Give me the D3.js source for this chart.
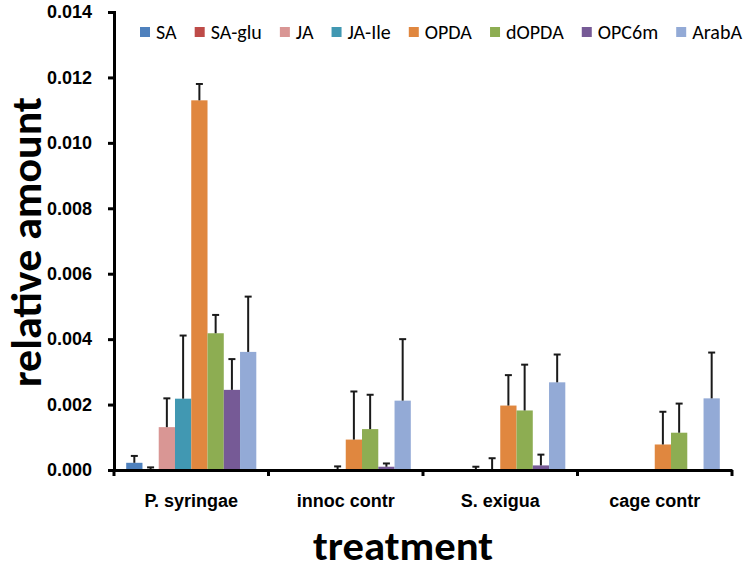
<!DOCTYPE html>
<html><head><meta charset="utf-8">
<script src="https://cdn.jsdelivr.net/npm/d3@7"></script>
<style>body{margin:0;background:#fff;} svg{display:block;font-family:Carlito, Lato, 'Open Sans', sans-serif;}</style>
</head><body><svg id="c" width="756" height="570"></svg>
<script>
const categories = ["P. syringae", "innoc contr", "S. exigua", "cage contr"];
const series = ["SA", "SA-glu", "JA", "JA-Ile", "OPDA", "dOPDA", "OPC6m", "ArabA"];
const colors = ["#4F81BD", "#BE4B48", "#D99694", "#4198B2", "#E0873F", "#8DAD52", "#765A96", "#93AAD6"];
const SA      = [0.00022, 0, 0, 0];
const SA_glu  = [0.00001, 0, 0, 0];
const JA      = [0.00131, 0, 0, 0];
const JA_Ile  = [0.00218, 0.00003, 0, 0];
const OPDA    = [0.0113, 0.00093, 0.00197, 0.00078];
const dOPDA   = [0.00418, 0.00125, 0.00182, 0.00114];
const OPC6m   = [0.00245, 0.0001, 0.00014, 0];
const ArabA   = [0.00361, 0.00212, 0.00268, 0.00219];
const SA_err     = [0.00021, 0, 0, 0];
const SA_glu_err = [0.00007, 0, 0, 0];
const JA_err     = [0.00088, 0, 0.0001, 0];
const JA_Ile_err = [0.00193, 0.00008, 0.00036, 0];
const OPDA_err   = [0.0005, 0.00147, 0.00093, 0.001];
const dOPDA_err  = [0.00056, 0.00105, 0.0014, 0.00089];
const OPC6m_err  = [0.00094, 0.0001, 0.00033, 0];
const ArabA_err  = [0.00169, 0.00188, 0.00085, 0.0014];
const yTicks = [0, 0.002, 0.004, 0.006, 0.008, 0.010, 0.012, 0.014];

const values = [SA, SA_glu, JA, JA_Ile, OPDA, dOPDA, OPC6m, ArabA];
const errs = [SA_err, SA_glu_err, JA_err, JA_Ile_err, OPDA_err, dOPDA_err, OPC6m_err, ArabA_err];

const svg = d3.select("#c");
const L = 114, R = 732, T = 12, B = 470;
const x0 = d3.scaleBand().domain(categories).range([L, R]).paddingInner(0).paddingOuter(0);
const x1 = d3.scaleBand().domain(series).range([0, x0.bandwidth()]).paddingInner(0).paddingOuter(0.75);
const y = d3.scaleLinear().domain([0, 0.014]).range([B, T]);

const data = [];
series.forEach((s, si) => categories.forEach((c, ci) => data.push({s, c, v: values[si][ci], e: errs[si][ci], col: colors[si]})));

const bars = svg.append("g");
bars.selectAll("rect").data(data.filter(d => d.v > 0)).join("rect")
  .attr("x", d => x0(d.c) + x1(d.s)).attr("width", x1.bandwidth())
  .attr("y", d => y(d.v)).attr("height", d => y(0) - y(d.v)).attr("fill", d => d.col);

const eb = svg.append("g").attr("stroke", "#1a1a1a").attr("stroke-width", 2);
data.filter(d => d.e > 0).forEach(d => {
  const cx = x0(d.c) + x1(d.s) + x1.bandwidth() / 2;
  eb.append("line").attr("x1", cx).attr("x2", cx).attr("y1", y(d.v)).attr("y2", y(d.v + d.e));
  eb.append("line").attr("x1", cx - 3.5).attr("x2", cx + 3.5).attr("y1", y(d.v + d.e)).attr("y2", y(d.v + d.e));
});

// y axis
const ya = svg.append("g").attr("transform", `translate(${L},0)`)
  .call(d3.axisLeft(y).tickValues(yTicks).tickFormat(d3.format(".3f")).tickSizeOuter(0).tickSize(6).tickPadding(16));
ya.select(".domain").attr("stroke", "#000").attr("stroke-width", 3);
ya.selectAll(".tick line").attr("stroke", "#000").attr("stroke-width", 3);
ya.selectAll(".tick text").attr("font-size", 18).attr("font-weight", "bold").attr("fill", "#000");

// x axis
const xa = svg.append("g").attr("transform", `translate(0,${B})`)
  .call(d3.axisBottom(x0).tickSize(0).tickPadding(24));
xa.select(".domain").attr("stroke", "#000").attr("stroke-width", 3);
xa.selectAll(".tick text").attr("font-size", 18).attr("font-weight", "bold").attr("fill", "#000");
const bounds = categories.map(c => x0(c)).concat([R]);
xa.selectAll(".bnd").data(bounds).join("line").attr("class", "bnd")
  .attr("x1", d => d).attr("x2", d => d).attr("y1", 0).attr("y2", 6)
  .attr("stroke", "#000").attr("stroke-width", 3);

// titles
svg.append("text").attr("transform", `translate(41,242) rotate(-90)`).attr("text-anchor", "middle")
  .attr("font-size", 42).attr("font-weight", "bold")
  .attr("textLength", 290).attr("lengthAdjust", "spacingAndGlyphs").text("relative amount");
svg.append("text").attr("x", 403).attr("y", 560).attr("text-anchor", "middle")
  .attr("font-size", 40).attr("font-weight", "bold")
  .attr("textLength", 180).attr("lengthAdjust", "spacingAndGlyphs").text("treatment");

// legend
const lg = svg.append("g");
const items = series.map((s, i) => {
  const t = lg.append("text").attr("y", 39).attr("font-size", 20).attr("fill", "#000").text(s);
  const r = lg.append("rect").attr("y", 27).attr("width", 10).attr("height", 10).attr("fill", colors[i]);
  return {t, r, w: t.node().getComputedTextLength()};
});
const lStart = 140, lEnd = 742, sqGap = 16;
const totalText = d3.sum(items, d => d.w);
const gap = (lEnd - lStart - totalText - items.length * sqGap) / (items.length - 1);
let lx = lStart;
items.forEach(d => {
  d.r.attr("x", lx);
  d.t.attr("x", lx + sqGap);
  lx = lx + sqGap + d.w + gap;
});
</script></body></html>
